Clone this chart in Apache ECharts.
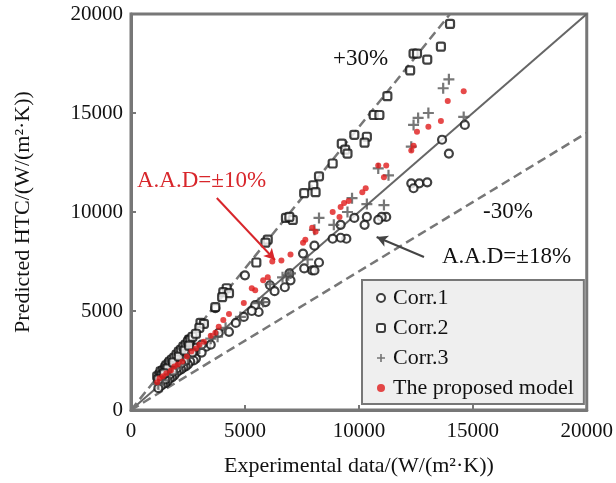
<!DOCTYPE html>
<html>
<head>
<meta charset="utf-8">
<script src="https://cdn.jsdelivr.net/npm/echarts@6/dist/echarts.min.js"></script>
<style>html,body{margin:0;padding:0;background:#fff}#c{width:616px;height:483px}</style>
</head>
<body>
<div id="c"></div>
<script>
// ---- data ----
var axisTicks = [0, 5000, 10000, 15000, 20000];
var seriesNames = ['Corr.1', 'Corr.2', 'Corr.3', 'The proposed model'];

var corr1 = [
  [14650,14400],[13650,13650],[13950,12950],[12300,11450],[12650,11450],[13000,11500],[12400,11200],
  [11200,9750],[11000,9750],[10850,9600],[10350,9750],[10250,9350],[9800,9700],[9200,9350],
  [9450,8650],[9200,8700],[8850,8650],[8050,8300],[8250,7450],[7950,7050],[7550,7900],[7600,7150],
  [8050,7050],[6950,6900],[7000,6550],[6750,6200],[6100,6300],[5900,5450],[5600,4950],[4950,4700],
  [5450,5300],[5000,6800],[3700,5150],[4300,3950],[3850,3900],[2850,2600],[2750,2500],[2850,3150],
  [3300,3200],[3500,3300],[3100,2900],[2600,2450],[2500,2300],[2400,2200],[2300,2150],[2200,2050],
  [2100,2000],[2000,1900],[1900,1750],[1800,1650],[1700,1600],[1600,1450],[1500,1350],[1400,1300],
  [1300,1200],[1200,1100],[2400,2500],[2000,2100],[1700,1800],[1500,1550],[2700,2900],[3100,3300],
  [2200,2350],[1850,1950],[4600,4400],[6300,6000],[5300,5000]
];
var corr2 = [
  [14000,19500],[13600,18350],[12400,18000],[12550,18000],[13000,17700],[12250,17150],[11250,15850],
  [10650,14900],[10900,14900],[9800,13900],[10350,13800],[10250,13500],[9250,13450],[9400,13150],
  [9500,12950],[8850,12450],[8250,11800],[8000,11350],[8100,11000],[7600,10950],[6800,9700],
  [7100,9600],[6950,9750],[6000,8600],[5900,8450],[5500,7450],[4200,6150],[4050,5950],[3700,5200],
  [4300,5900],[4000,5700],[3050,4400],[3200,4350],[3000,4150],[2550,3550],
  [1150,1700],[1250,1800],[1300,1950],[1400,2000],[1500,2150],[1550,2250],[1650,2350],[1700,2450],
  [1800,2550],[1900,2650],[2000,2800],[2100,2950],[2200,3050],[2300,3200],[2400,3300],[2500,3450],
  [2600,3550],[2700,3700],[2850,3850],[1350,1750],[1600,2100],[1850,2400],[2100,2700],[2350,3000],
  [2550,3250],[1200,1550],[1450,1850]
];
var corr3 = [
  [13950,16700],[13700,16250],[12600,14750],[13050,15000],[12400,14400],[14600,14800],[12300,13300],
  [11300,11850],[10850,12200],[11100,10350],[10350,10400],[9700,10700],[9500,10000],[8250,9700],
  [8900,9350],[8050,9100],[7750,7600],[7000,6900],[6650,6700],[6900,6800],[5600,5400],[5800,5450],
  [4150,4150],[3500,3600],[3000,3100],[2500,2650],[2200,2300],[2000,2100],[1700,1800],[1400,1500],
  [1200,1300],[6100,6350],[4800,4700],[3800,3700]
];
var proposed = [
  [14600,16100],[13900,15600],[13600,14600],[13050,14300],[12550,14050],[12400,13350],[12300,13100],
  [10850,12350],[11200,12350],[11100,11750],[10150,11000],[10300,11200],[9350,10450],[9550,10550],
  [9200,10250],[8850,10000],[9150,9750],[7950,9200],[8100,9000],[7650,8600],[7550,8450],[7000,7850],
  [6600,7550],[6200,7500],[6000,6700],[5800,6550],[5450,6050],[5300,6150],[4950,5400],[4300,4850],
  [4050,4550],[3850,4200],[3700,3900],[3200,3450],[3000,3300],[2650,2950],[2450,2700],[2250,2450],
  [2050,2300],[1900,2200],[1750,2000],[1550,1850],[1400,1700],[1250,1600],[1150,1400],[3500,3750],
  [2850,3100]
];
var perfectLine = [[0,0],[20000,20000]];
var plus30Line = [[0,0],[14000,20000]];
var minus30Line = [[0,0],[20000,14000]];
var arrowRed = [[3766,10707],[6320,7576]];
var arrowBlack = [[12857,7727],[10779,8737]];

// ---- chart ----
var FONT = '"Liberation Serif", "Times New Roman", serif';
var chart = echarts.init(document.getElementById('c'), null, {renderer: 'canvas'});
var plusPath = 'path://M4,0H6V4H10V6H6V10H4V6H0V4H4Z';
function plain(v) { return String(v); }

chart.setOption({
  animation: false,
  backgroundColor: '#fff',
  grid: {left: 131, right: 23, top: 14, bottom: 73, show: true, borderColor: '#777', borderWidth: 3},
  xAxis: {
    type: 'value', min: axisTicks[0], max: axisTicks[axisTicks.length-1], interval: 5000,
    name: 'Experimental data/(W/(m²·K))', nameLocation: 'middle', nameGap: 45,
    nameTextStyle: {fontFamily: FONT, fontSize: 22, color: '#111'},
    axisLine: {lineStyle: {color: '#777', width: 3}},
    axisTick: {inside: true, length: 5, lineStyle: {color: '#777', width: 2}},
    axisLabel: {fontFamily: FONT, fontSize: 21, color: '#111', margin: 11, formatter: plain},
    splitLine: {show: false}
  },
  yAxis: {
    type: 'value', min: axisTicks[0], max: axisTicks[axisTicks.length-1], interval: 5000,
    name: 'Predicted HTC/(W/(m²·K))', nameLocation: 'middle', nameGap: 97, nameRotate: 90,
    nameTextStyle: {fontFamily: FONT, fontSize: 22, color: '#111'},
    axisLine: {lineStyle: {color: '#777', width: 3}},
    axisTick: {inside: true, length: 5, lineStyle: {color: '#777', width: 2}},
    axisLabel: {fontFamily: FONT, fontSize: 21, color: '#111', margin: 8, formatter: plain},
    splitLine: {show: false}
  },
  legend: {
    data: seriesNames,
    orient: 'vertical', left: 362, top: 280,
    padding: [7, 10, 5, 14], itemGap: 8, itemWidth: 8, itemHeight: 8,
    backgroundColor: '#efefef', borderColor: '#777', borderWidth: 2,
    textStyle: {fontFamily: FONT, fontSize: 22, color: '#111', lineHeight: 22, padding: [0, 0, 0, 3]}
  },
  graphic: [
    {type: 'text', left: 333, top: 47, style: {text: '+30%', font: '23px ' + FONT, fill: '#111'}},
    {type: 'text', left: 483, top: 200, style: {text: '-30%', font: '23px ' + FONT, fill: '#111'}},
    {type: 'text', left: 442, top: 245, style: {text: 'A.A.D=±18%', font: '23px ' + FONT, fill: '#111'}},
    {type: 'text', left: 137, top: 169, style: {text: 'A.A.D=±10%', font: '23px ' + FONT, fill: '#d8262b'}}
  ],
  series: [
    {type: 'line', data: perfectLine, showSymbol: false, silent: true, z: 1,
     lineStyle: {color: '#666', width: 2}},
    {type: 'line', data: plus30Line, showSymbol: false, silent: true, z: 1,
     lineStyle: {color: '#777', width: 2.5, type: [9, 5]}},
    {type: 'line', data: minus30Line, showSymbol: false, silent: true, z: 1,
     lineStyle: {color: '#777', width: 2.5, type: [9, 5]},
     markLine: {
       silent: true, symbol: ['none', 'arrow'], symbolSize: [9, 11], label: {show: false},
       data: [
         [{coord: arrowRed[0], lineStyle: {color: '#d8262b', width: 2, type: 'solid'}}, {coord: arrowRed[1]}],
         [{coord: arrowBlack[0], lineStyle: {color: '#444', width: 2, type: 'solid'}}, {coord: arrowBlack[1]}]
       ]
     }},
    {name: seriesNames[0], type: 'scatter', data: corr1, symbol: 'circle', symbolSize: 8, z: 3,
     itemStyle: {color: '#fff', borderColor: '#111', borderWidth: 2.2}},
    {name: seriesNames[1], type: 'scatter', data: corr2, symbol: 'roundRect', symbolSize: 8, z: 3,
     itemStyle: {color: '#fff', borderColor: '#111', borderWidth: 2.2}},
    {name: seriesNames[2], type: 'scatter', data: corr3, symbol: plusPath, symbolSize: 11, z: 4,
     itemStyle: {color: '#555'}},
    {name: seriesNames[3], type: 'scatter', data: proposed, symbol: 'circle', symbolSize: 6, z: 5,
     itemStyle: {color: '#e01b1b'}}
  ]
});
</script>
</body>
</html>
